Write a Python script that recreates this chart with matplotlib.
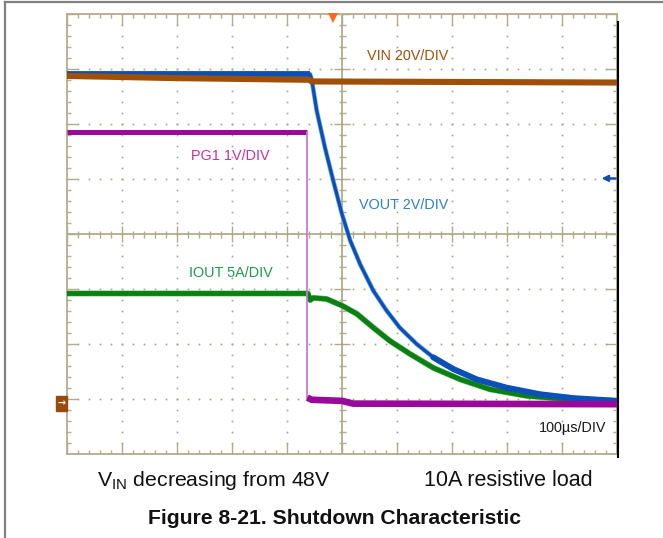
import numpy as np
import matplotlib.pyplot as plt
import matplotlib.patheffects as pe
from matplotlib.lines import Line2D
from matplotlib.patches import Rectangle

plt.rcParams['font.family'] = ['Liberation Sans', 'DejaVu Sans']
plt.rcParams['mathtext.fontset'] = 'custom'
plt.rcParams['mathtext.rm'] = 'Liberation Sans'

# scope traces: time in us (100us/DIV), level in screen divisions
vin_t = [0, 200, 440, 445, 1000]
vin_div = [6.87, 6.83, 6.80, 6.77, 6.75]

vout_t = [0, 442, 445, 454, 469, 484, 500, 515, 533, 557, 581, 605, 636, 666,
          702, 745, 799, 860, 920, 1000]
vout_div = [6.90, 6.90, 6.80, 6.24, 5.57, 4.97, 4.36, 3.88, 3.45, 2.97, 2.61, 2.30,
            2.00, 1.76, 1.55, 1.36, 1.21, 1.09, 1.02, 0.97]

iout_t = [0, 438, 442, 448, 472, 500, 527, 557, 587, 624, 666, 715, 769, 836, 909, 1000]
iout_div = [2.92, 2.92, 2.80, 2.84, 2.82, 2.70, 2.55, 2.30, 2.06, 1.82, 1.57, 1.36,
            1.18, 1.06, 1.00, 0.97]

pg_t = [0, 437, 437, 445, 500, 520, 1000]
pg_div = [5.86, 5.86, 1.03, 0.99, 0.97, 0.92, 0.91]

labels = ['VIN 20V/DIV', 'PG1 1V/DIV', 'VOUT 2V/DIV', 'IOUT 5A/DIV']

fig = plt.figure(figsize=(6.63, 5.38), dpi=100)
ax = fig.add_axes([67/663, (538 - 454.3)/538, 550/663, 440.6/538])
ax.set_xlim(0, 1000)
ax.set_ylim(0, 8)
ax.set_xticks([])
ax.set_yticks([])
grid_c = '#b3ab8b'
for s in ax.spines.values():
    s.set_color(grid_c)
    s.set_linewidth(1.3)

# graticule
px_x = 1000/550.0
px_y = 8/440.6
xm = np.arange(0, 1000.1, 20)
ym = np.arange(0, 8.001, 0.2)
for x in xm:
    major = abs(x/100 - round(x/100)) < 1e-6
    L = (11 if major else 4)*px_y
    ax.vlines(x, 0, L, color=grid_c, lw=1)
    ax.vlines(x, 8 - L, 8, color=grid_c, lw=1)
    c = (8 if major else 3.5)*px_y
    ax.vlines(x, 4 - c, 4 + c, color=grid_c, lw=1)
for y in ym:
    major = abs(y - round(y)) < 1e-6
    L = (11 if major else 4)*px_x
    ax.hlines(y, 0, L, color=grid_c, lw=1)
    ax.hlines(y, 1000 - L, 1000, color=grid_c, lw=1)
    c = (8 if major else 3.5)*px_x
    ax.hlines(y, 500 - c, 500 + c, color=grid_c, lw=1)
ax.axvline(500, color=grid_c, lw=1.3)
ax.axhline(4, color=grid_c, lw=1.3)
dot_c = '#a8a388'
for gx in [100, 200, 300, 400, 600, 700, 800, 900]:
    ax.plot(np.full(len(ym), gx), ym, ls='none', marker='s', ms=1.2, color=dot_c, mew=0)
for gy in [1, 2, 3, 5, 6, 7]:
    ax.plot(xm, np.full(len(xm), gy), ls='none', marker='s', ms=1.2, color=dot_c, mew=0)

# traces
t = np.array(vout_t)
v = np.array(vout_div)
ax.plot(iout_t, iout_div, color='#0a8012', lw=3.5, solid_capstyle='butt',
        path_effects=[pe.Stroke(linewidth=4.3, foreground='#7cc07c'), pe.Normal()], zorder=3)
ax.plot(t, v, color='#0b50b6', lw=2.4, solid_capstyle='butt',
        path_effects=[pe.Stroke(linewidth=3.4, foreground='#86b2e6'), pe.Normal()], zorder=4)
tail = t >= 666
ax.plot(t[tail], v[tail], color='#0b50b6', lw=4.3, solid_capstyle='round', zorder=4)
ax.plot(t[:2], v[:2], color='#0b50b6', lw=4.2, solid_capstyle='butt', zorder=4)
ax.plot(pg_t[:2], pg_div[:2], color='#9a0a9a', lw=3.6, solid_capstyle='butt', zorder=5)
ax.plot(pg_t[1:3], pg_div[1:3], color='#c97bd0', lw=1.3, zorder=5)
ax.plot(pg_t[2:], pg_div[2:], color='#9a0a9a', lw=4.8, solid_capstyle='butt', zorder=5)
ax.plot(vin_t, vin_div, color='#a04f08', lw=4.4, solid_capstyle='butt', zorder=6)

# channel labels
ax.text(545, 7.24, labels[0], color='#a0500a', fontsize=10.4, va='center', ha='left')
ax.text(225, 5.42, labels[1], color='#c8309e', fontsize=10.4, va='center', ha='left')
ax.text(531, 4.53, labels[2], color='#2a80d2', fontsize=10.4, va='center', ha='left')
ax.text(222, 3.30, labels[3], color='#1f9a4c', fontsize=10.4, va='center', ha='left')
ax.text(858, 0.48, '100\u00b5s/DIV', color='#1a1a1a', fontsize=10.4, va='center', ha='left')

# scope markers
ax.plot([483], [7.93], marker='v', ms=7, color='#ff6622', mew=0, clip_on=False, zorder=7)
ax.add_patch(Rectangle((-20, 0.79), 19.5, 0.27, color='#9c4a0a', clip_on=False, zorder=7))
ax.text(-10, 0.925, '\u2192', color='white', fontsize=7, ha='center', va='center',
        family='DejaVu Sans', fontweight='bold', clip_on=False, zorder=8)
ax.annotate('', xy=(972, 5.01), xytext=(998, 5.01),
            arrowprops=dict(arrowstyle='-|>', color='#0b50b6', lw=1.6, mutation_scale=9,
                            shrinkA=0, shrinkB=0))

# frame decorations
fig.add_artist(Line2D([618/663, 618/663], [1 - 457/538, 1 - 22/538], color='black', lw=1.5))
fig.add_artist(Line2D([4.7/663, 1], [1 - 2/538, 1 - 2/538], color='#808080', lw=1.6))
fig.add_artist(Line2D([4.7/663, 4.7/663], [0, 1 - 2/538], color='#808080', lw=1.6))

# captions
fig.text(96.6/663, 1 - 480/538, r'V$_{\mathregular{IN}}$ decreasing from 48V',
         fontsize=15.3, va='center', ha='left', color='#111111')
fig.text(424/663, 1 - 480/538, '10A resistive load', fontsize=15.5, va='center',
         ha='left', color='#111111')
fig.text(334.5/663, 1 - 518/538, 'Figure 8-21. Shutdown Characteristic', fontsize=15.2,
         fontweight='bold', va='center', ha='center', color='#111111')

fig.savefig('out.png', dpi=100)
